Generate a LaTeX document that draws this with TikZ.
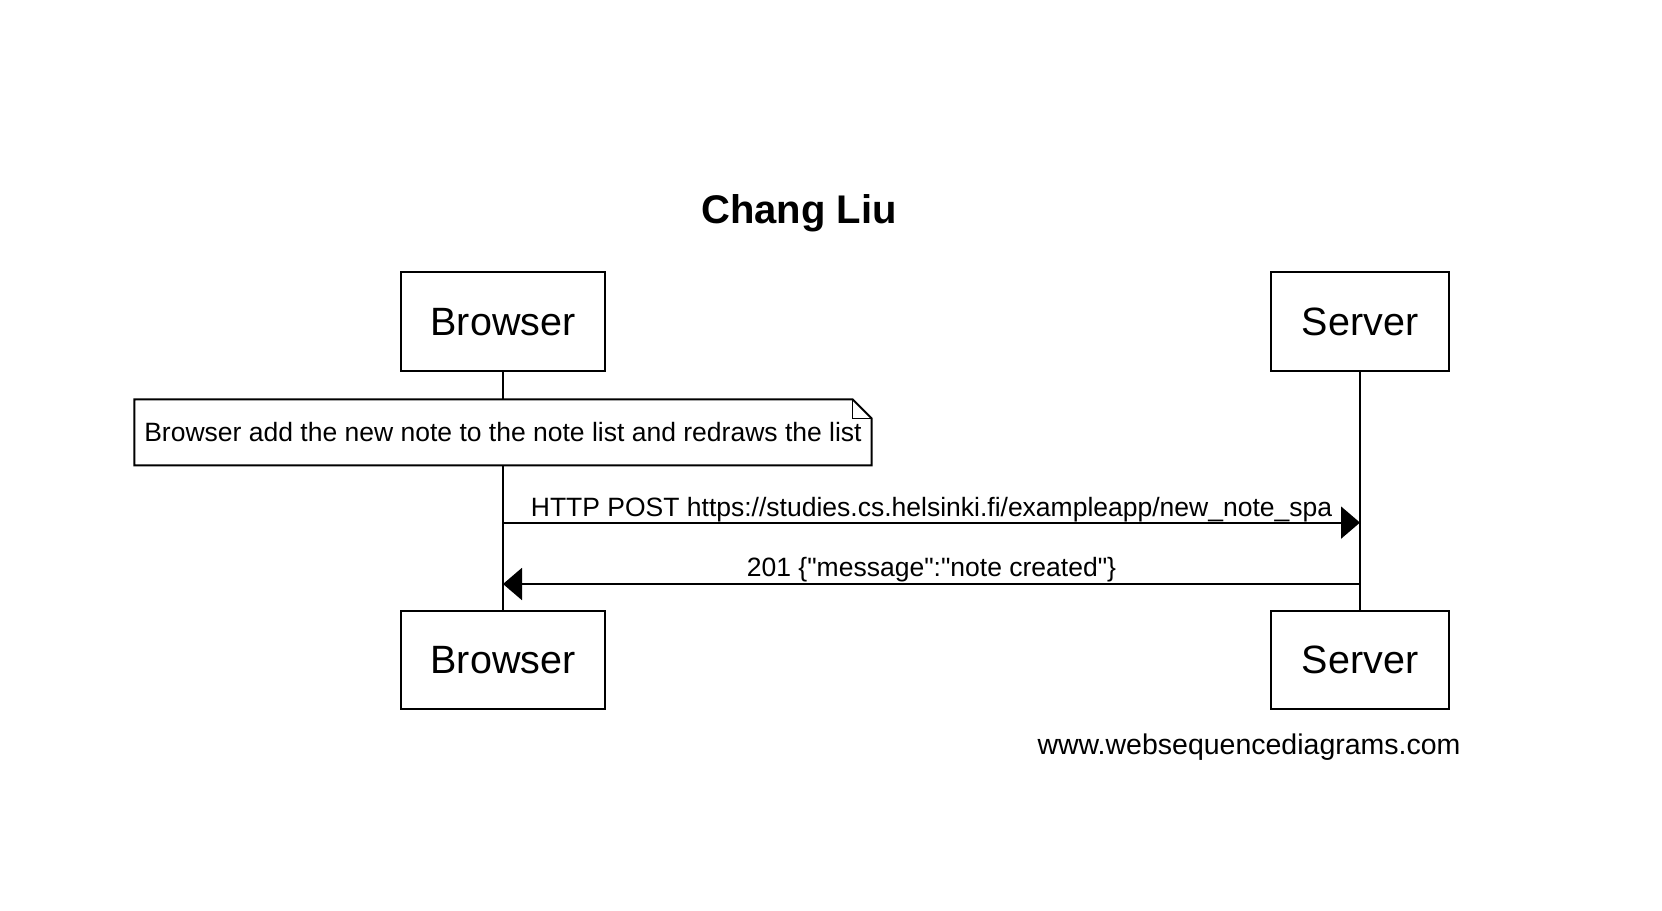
\documentclass[tikz,border=0pt]{standalone}
\usepackage{fontspec}
\setmainfont{Liberation Sans}[Ligatures=TeXOff]
\usetikzlibrary{arrows.meta,calc}
\begin{document}
\begin{tikzpicture}[x=1pt,y=-1pt,
  actor/.style={draw,line width=2pt,inner sep=0pt,minimum height=98.6pt,font=\fontsize{39.5}{44}\selectfont},
  lifeline/.style={line width=2pt},
  msg/.style={line width=2pt,-{Triangle[length=19pt,width=32pt]}},
  lbl/.style={inner sep=0pt,font=\fontsize{26.5}{30}\selectfont}]
\useasboundingbox (0,0) rectangle (1662,910);
\node[font=\bfseries\fontsize{40}{46}\selectfont] (title) at (799,213) {Chang Liu};
\node[actor,minimum width=204.6pt] (bt) at (503,321.7) {Browser};
\node[actor,minimum width=178pt] (st) at (1360,321.7) {Server};
\node[actor,minimum width=204.6pt] (bb) at (503,659.8) {Browser};
\node[actor,minimum width=178pt] (sb) at (1360,659.8) {Server};
\node[lbl,minimum width=736.7pt,minimum height=65.7pt] (note) at (503,432.4) {Browser add the new note to the note list and redraws the list};
\draw[line width=2pt] (note.north west) -- ([xshift=-19pt]note.north east) -- ([yshift=-19pt]note.north east) -- (note.south east) -- (note.south west) -- cycle;
\draw[line width=1.5pt] ([xshift=-19pt]note.north east) |- ([yshift=-19pt]note.north east);
\draw[lifeline] (bt.south) -- (note.north);
\draw[lifeline] (note.south) -- (bb.north);
\draw[lifeline] (st.south) -- (sb.north);
\coordinate (b1) at (bt.center |- 0,522.6);
\coordinate (s1) at (st.center |- 0,522.6);
\coordinate (b2) at (bt.center |- 0,584);
\coordinate (s2) at (st.center |- 0,584);
\draw[msg] (b1) -- (s1) node[lbl,midway,above=0pt] (m1) {HTTP POST https://studies.cs.helsinki.fi/exampleapp/new\_note\_spa};
\draw[msg] (s2) -- (b2) node[lbl,midway,above=1pt] (m2) {201 \{"message":"note created"\}};
\node[lbl,font=\fontsize{28.5}{32}\selectfont,anchor=east] (foot) at (1460.7,747) {www.websequencediagrams.com};
\end{tikzpicture}
\end{document}
